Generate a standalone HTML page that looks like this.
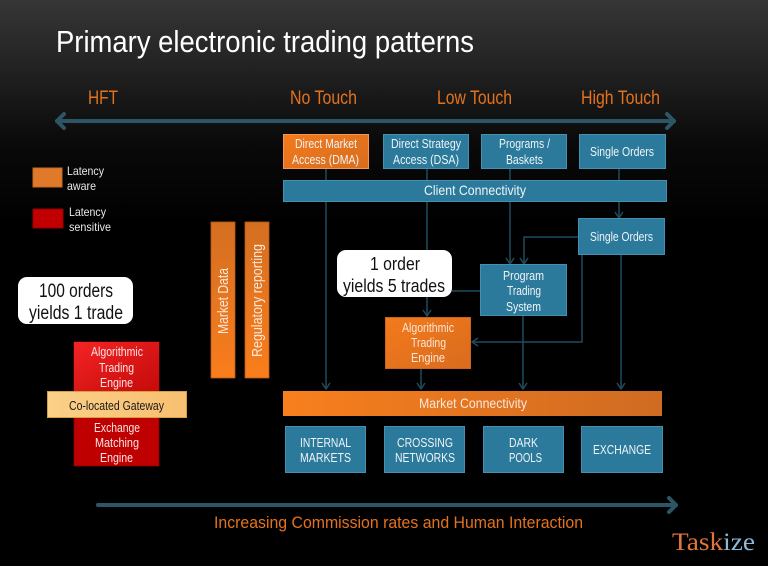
<!DOCTYPE html>
<html><head><meta charset="utf-8"><style>
html,body{margin:0;padding:0;background:#000;}
svg{display:block;}
text{font-family:"Liberation Sans",sans-serif;}
</style></head><body>
<svg width="768" height="566" viewBox="0 0 768 566" xmlns="http://www.w3.org/2000/svg">
<defs>
<linearGradient id="bg" x1="0" y1="0" x2="0" y2="1">
<stop offset="0" stop-color="#363636"/><stop offset="0.12" stop-color="#222"/><stop offset="0.25" stop-color="#0a0a0a"/><stop offset="0.4" stop-color="#000"/><stop offset="1" stop-color="#000"/>
</linearGradient>
<linearGradient id="orH" x1="0" y1="0" x2="1" y2="0"><stop offset="0" stop-color="#f87f1d"/><stop offset="1" stop-color="#cf6b22"/></linearGradient>
<linearGradient id="orB" x1="0" y1="0" x2="1" y2="1"><stop offset="0" stop-color="#f47a1c"/><stop offset="1" stop-color="#d86c1e"/></linearGradient>
<linearGradient id="orV" x1="0" y1="0" x2="0" y2="1"><stop offset="0" stop-color="#d46f22"/><stop offset="1" stop-color="#f97d1c"/></linearGradient>
<linearGradient id="redT" x1="0" y1="0" x2="1" y2="1"><stop offset="0" stop-color="#f42424"/><stop offset="1" stop-color="#c40a0a"/></linearGradient>
<linearGradient id="gw" x1="0" y1="0" x2="1" y2="0"><stop offset="0" stop-color="#fbd088"/><stop offset="1" stop-color="#f8bf70"/></linearGradient>
</defs>
<rect width="768" height="566" fill="url(#bg)"/>

<!-- Title -->
<text x="56" y="52" font-size="31" fill="#ffffff" textLength="418" lengthAdjust="spacingAndGlyphs">Primary electronic trading patterns</text>

<!-- Header labels -->
<g fill="#e5731d" font-size="19">
<text x="88" y="104" textLength="30" lengthAdjust="spacingAndGlyphs">HFT</text>
<text x="290" y="104" textLength="67" lengthAdjust="spacingAndGlyphs">No Touch</text>
<text x="437" y="104" textLength="75" lengthAdjust="spacingAndGlyphs">Low Touch</text>
<text x="581" y="104" textLength="79" lengthAdjust="spacingAndGlyphs">High Touch</text>
</g>

<!-- Top double arrow -->
<g stroke="#2c5666" stroke-width="4" fill="none" stroke-linecap="round" stroke-linejoin="round">
<line x1="57" y1="121" x2="674" y2="121"/>
<polyline points="64,114 57,121 64,128"/>
<polyline points="667,114 674,121 667,128"/>
</g>

<!-- Bottom arrow -->
<g stroke="#2c5666" stroke-width="4" fill="none" stroke-linecap="round" stroke-linejoin="round">
<line x1="98" y1="505" x2="676" y2="505"/>
<polyline points="669,498 676,505 669,512"/>
</g>
<text x="214" y="528" font-size="17" fill="#e5731d" textLength="369" lengthAdjust="spacingAndGlyphs">Increasing Commission rates and Human Interaction</text>

<!-- Taskize -->
<text x="672" y="550" font-size="25" font-family="Liberation Serif, serif" textLength="83" lengthAdjust="spacingAndGlyphs" style="font-family:'Liberation Serif',serif"><tspan fill="#e0763a">Task</tspan><tspan fill="#8fb8d8">ize</tspan></text>

<!-- Connectors -->
<g stroke="#1f4b5c" stroke-width="1.5" fill="none">
<line x1="326" y1="169" x2="326" y2="389"/>
<polyline points="322,383 326,389 330,383"/>
<line x1="427" y1="169" x2="427" y2="316"/>
<polyline points="423,310 427,316 431,310"/>
<line x1="510" y1="169" x2="510" y2="264"/>
<polyline points="506,258 510,264 514,258"/>
<line x1="619" y1="169" x2="619" y2="218"/>
<polyline points="615,212 619,218 623,212"/>
<polyline points="578,237 524,237 524,264"/>
<polyline points="520,258 524,264 528,258"/>
<line x1="480" y1="291" x2="452" y2="291"/>
<polyline points="582,255 582,342 472,342"/>
<polyline points="478,338 472,342 478,346"/>
<line x1="621" y1="255" x2="621" y2="389"/>
<polyline points="617,383 621,389 625,383"/>
<line x1="523" y1="316" x2="523" y2="389"/>
<polyline points="519,383 523,389 527,383"/>
<line x1="421" y1="369" x2="421" y2="389"/>
<polyline points="417,383 421,389 425,383"/>
</g>

<!-- Top row boxes -->
<rect x="283.5" y="134.5" width="85" height="34" fill="url(#orB)" stroke="#f39650" stroke-width="1"/>
<g fill="#2b7a9b" stroke="#4590b0" stroke-width="1">
<rect x="383.5" y="134.5" width="85" height="34"/>
<rect x="481.5" y="134.5" width="85" height="34"/>
<rect x="579.5" y="134.5" width="86" height="34"/>
<rect x="283.5" y="180.5" width="383" height="21"/>
<rect x="578.5" y="218.5" width="86" height="36"/>
<rect x="480.5" y="264.5" width="86" height="51"/>
<rect x="285.5" y="426.5" width="80" height="46"/>
<rect x="384.5" y="426.5" width="80" height="46"/>
<rect x="483.5" y="426.5" width="80" height="46"/>
<rect x="581.5" y="426.5" width="81" height="46"/>
</g>

<g fill="#eef4f7" font-size="12.5">
<text x="295" y="148" textLength="62" lengthAdjust="spacingAndGlyphs">Direct Market</text>
<text x="292" y="164" textLength="67" lengthAdjust="spacingAndGlyphs">Access (DMA)</text>
<text x="391" y="148" textLength="70" lengthAdjust="spacingAndGlyphs">Direct Strategy</text>
<text x="393" y="164" textLength="66" lengthAdjust="spacingAndGlyphs">Access (DSA)</text>
<text x="499" y="148" textLength="51" lengthAdjust="spacingAndGlyphs">Programs /</text>
<text x="506" y="164" textLength="37" lengthAdjust="spacingAndGlyphs">Baskets</text>
<text x="590" y="156" textLength="64" lengthAdjust="spacingAndGlyphs">Single Orders</text>
<text x="424" y="195" font-size="14" textLength="102" lengthAdjust="spacingAndGlyphs">Client Connectivity</text>
<text x="590" y="241" textLength="63" lengthAdjust="spacingAndGlyphs">Single Orders</text>
<text x="503" y="280" textLength="41" lengthAdjust="spacingAndGlyphs">Program</text>
<text x="507" y="295" textLength="34" lengthAdjust="spacingAndGlyphs">Trading</text>
<text x="506" y="311" textLength="35" lengthAdjust="spacingAndGlyphs">System</text>
<text x="300" y="447" textLength="51" lengthAdjust="spacingAndGlyphs">INTERNAL</text>
<text x="300" y="462" textLength="51" lengthAdjust="spacingAndGlyphs">MARKETS</text>
<text x="397" y="447" textLength="56" lengthAdjust="spacingAndGlyphs">CROSSING</text>
<text x="395" y="462" textLength="60" lengthAdjust="spacingAndGlyphs">NETWORKS</text>
<text x="509" y="447" textLength="29" lengthAdjust="spacingAndGlyphs">DARK</text>
<text x="509" y="462" textLength="33" lengthAdjust="spacingAndGlyphs">POOLS</text>
<text x="593" y="454" textLength="58" lengthAdjust="spacingAndGlyphs">EXCHANGE</text>
</g>

<!-- 1 order box -->
<rect x="337" y="250" width="115" height="47" rx="9" fill="#ffffff"/>
<g fill="#111" font-size="18">
<text x="370" y="270" textLength="50" lengthAdjust="spacingAndGlyphs">1 order</text>
<text x="343" y="292" textLength="102" lengthAdjust="spacingAndGlyphs">yields 5 trades</text>
</g>

<!-- Algo engine -->
<rect x="385.5" y="317.5" width="85" height="51" fill="url(#orB)" stroke="#d0621a" stroke-width="1"/>
<g fill="#fbe6d6" font-size="12.5">
<text x="402" y="332" textLength="52" lengthAdjust="spacingAndGlyphs">Algorithmic</text>
<text x="411" y="347" textLength="35" lengthAdjust="spacingAndGlyphs">Trading</text>
<text x="411" y="362" textLength="34" lengthAdjust="spacingAndGlyphs">Engine</text>
</g>

<!-- Market Connectivity -->
<rect x="283" y="391" width="379" height="25" fill="url(#orH)"/>
<text x="419" y="408" font-size="14" fill="#fbe8da" textLength="108" lengthAdjust="spacingAndGlyphs">Market Connectivity</text>

<!-- Legend -->
<rect x="33" y="168" width="29" height="19" fill="#e07a2a" stroke="#c86a22" stroke-width="1"/>
<rect x="33" y="209" width="30" height="19" fill="#c00000" stroke="#9a0000" stroke-width="1"/>
<g fill="#e8e8e8" font-size="12">
<text x="67" y="175" textLength="37" lengthAdjust="spacingAndGlyphs">Latency</text>
<text x="67" y="190" textLength="29" lengthAdjust="spacingAndGlyphs">aware</text>
<text x="69" y="216" textLength="37" lengthAdjust="spacingAndGlyphs">Latency</text>
<text x="69" y="231" textLength="42" lengthAdjust="spacingAndGlyphs">sensitive</text>
</g>

<!-- Market data / Regulatory bars -->
<rect x="211" y="222" width="24" height="156" fill="url(#orV)" stroke="#b85a18" stroke-width="0.8"/>
<rect x="245" y="222" width="24" height="156" fill="url(#orV)" stroke="#b85a18" stroke-width="0.8"/>
<g fill="#fbe8da" font-size="15">
<text transform="translate(228,334) rotate(-90)" textLength="66" lengthAdjust="spacingAndGlyphs">Market Data</text>
<text transform="translate(262,357) rotate(-90)" textLength="113" lengthAdjust="spacingAndGlyphs">Regulatory reporting</text>
</g>

<!-- 100 orders -->
<rect x="18" y="277" width="115" height="47" rx="9" fill="#ffffff"/>
<g fill="#111" font-size="19">
<text x="39" y="297" textLength="74" lengthAdjust="spacingAndGlyphs">100 orders</text>
<text x="29" y="319" textLength="94" lengthAdjust="spacingAndGlyphs">yields 1 trade</text>
</g>

<!-- Red stack -->
<rect x="74" y="342" width="85" height="124" fill="#bf0000" stroke="#8a0000" stroke-width="0.8"/>
<rect x="74" y="342" width="85" height="50" fill="url(#redT)"/>
<g fill="#fde4e4" font-size="12.5">
<text x="91" y="356" textLength="52" lengthAdjust="spacingAndGlyphs">Algorithmic</text>
<text x="99" y="372" textLength="35" lengthAdjust="spacingAndGlyphs">Trading</text>
<text x="100" y="387" textLength="33" lengthAdjust="spacingAndGlyphs">Engine</text>
<text x="94" y="432" textLength="46" lengthAdjust="spacingAndGlyphs">Exchange</text>
<text x="95" y="447" textLength="44" lengthAdjust="spacingAndGlyphs">Matching</text>
<text x="100" y="462" textLength="33" lengthAdjust="spacingAndGlyphs">Engine</text>
</g>
<rect x="47.5" y="391.5" width="139" height="26" fill="url(#gw)" stroke="#d8a040" stroke-width="1"/>
<text x="69" y="410" font-size="12.5" fill="#1a1a1a" textLength="95" lengthAdjust="spacingAndGlyphs">Co-located Gateway</text>
</svg>
</body></html>
